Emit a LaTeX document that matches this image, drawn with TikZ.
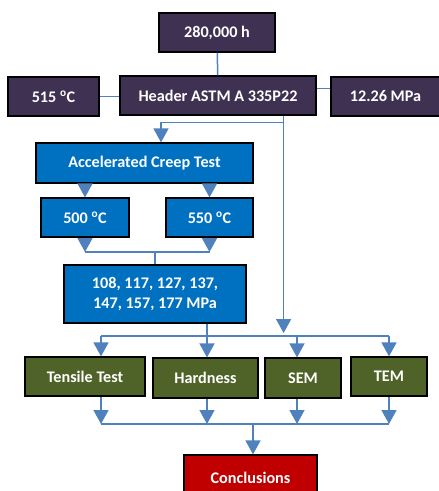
\documentclass[tikz,border=0pt]{standalone}
\usepackage{fontspec}
\setmainfont{Carlito}
\usepackage{xcolor}
\usetikzlibrary{arrows.meta,calc}
\definecolor{plum}{RGB}{63,49,81}
\definecolor{testblue}{RGB}{0,112,192}
\definecolor{olive}{RGB}{79,98,40}
\definecolor{alert}{RGB}{192,0,0}
\definecolor{link}{RGB}{79,129,189}
\tikzset{
    box/.style={
        draw=black,
        line width=1.2pt,
        text=white,
        align=center,
        inner sep=2pt,
        minimum height=39pt,
        font=\fontsize{16.2}{20}\selectfont\bfseries
    },
    inputbox/.style={box, fill=plum},
    testbox/.style={box, fill=testblue},
    probebox/.style={box, fill=olive},
    endbox/.style={box, fill=alert},
    link/.style={
        draw=link,
        line width=1.5pt
    },
    arrow/.style={
        link,
        -{Triangle[width=15pt,length=14pt]}
    }
}
\newcommand{\degC}{\textsuperscript{o}C}

\begin{document}
\begin{tikzpicture}[x=1pt,y=-1pt]
    \useasboundingbox (0,0) rectangle (439,491);

    % service data of the header
    \node[inputbox, minimum width=116pt] (hours) at (217,32.5) {280,000 h};
    \node[inputbox, minimum width=196pt] (header) at (218,95.5) {Header ASTM A 335P22};
    \node[inputbox, minimum width=91pt] (temp) at (53.5,96.5) {515 \degC};
    \node[inputbox, minimum width=109pt] (press) at (385.5,96.5) {12.26 MPa};

    % creep programme
    \node[testbox, minimum width=217pt, minimum height=40pt] (accel) at (144.5,163) {Accelerated Creep Test};
    \node[testbox, minimum width=88pt] (t500) at (85,217.5) {500 \degC};
    \node[testbox, minimum width=87pt] (t550) at (209.5,217.5) {550 \degC};
    \node[testbox, minimum width=182pt, minimum height=58pt] (stress) at (155,294)
        {108, 117, 127, 137,\\147, 157, 177 MPa};

    % characterisation
    \node[probebox, minimum width=120pt] (tensile) at (85,376.5) {Tensile Test};
    \node[probebox, minimum width=105pt, minimum height=40pt] (hardness) at (205.5,378) {Hardness};
    \node[probebox, minimum width=76pt, minimum height=40pt] (sem) at (303,378) {SEM};
    \node[probebox, minimum width=76pt] (tem) at (389,376.5) {TEM};

    \node[endbox, minimum width=133pt, minimum height=46pt] (concl) at (250.5,478) {Conclusions};

    \coordinate (tap) at ([xshift=-33pt]header.south east);
    \coordinate (split) at ([yshift=-7pt]tap);
    \coordinate (merge) at (0,252);
    \coordinate (bus1) at (0,336);
    \coordinate (bus2) at (0,424);

    \draw[link] (hours) -- (header);
    \draw[link] (temp.east) -- (temp.east -| header.west);
    \draw[link] ([yshift=7pt]header.east) -- ([yshift=7pt]header.east -| press.west);

    \draw[arrow] (tap) -- ([yshift=3pt]tap |- bus1);
    \draw[arrow] (split) -| ([xshift=16.5pt]accel.north);

    \draw[arrow] (t500.north |- accel.south) -- (t500.north);
    \draw[arrow] (t550.north |- accel.south) -- (t550.north);
    \draw[arrow] (t500.south) -- (t500.south |- merge);
    \draw[arrow] (t550.south) -- (t550.south |- merge);
    \draw[link] (t500.south |- merge) -- (t550.south |- merge);
    \draw[link] (stress.north |- merge) -- (stress.north);

    \draw[link] ([xshift=52pt]stress.south) -- ([xshift=52pt]stress.south |- bus1);
    \draw[link] ([xshift=16pt]tensile.north |- bus1) -- (tem.north |- bus1);
    \draw[arrow] ([xshift=16pt]tensile.north |- bus1) -- ([xshift=16pt]tensile.north);
    \draw[arrow] ([xshift=1.5pt]hardness.north |- bus1) -- ([xshift=1.5pt]hardness.north);
    \draw[arrow] ([xshift=-6pt]sem.north |- bus1) -- ([xshift=-6pt]sem.north);
    \draw[arrow] (tem.north |- bus1) -- (tem.north);

    \draw[arrow] ([xshift=16pt]tensile.south) -- ([xshift=16pt]tensile.south |- bus2);
    \draw[arrow] ([xshift=1.5pt]hardness.south) -- ([xshift=1.5pt]hardness.south |- bus2);
    \draw[arrow] ([xshift=-6pt]sem.south) -- ([xshift=-6pt]sem.south |- bus2);
    \draw[arrow] (tem.south) -- (tem.south |- bus2);
    \draw[link] ([xshift=16pt]tensile.south |- bus2) -- (tem.south |- bus2);
    \draw[arrow] ([xshift=2.5pt]concl.north |- bus2) -- ([xshift=2.5pt]concl.north);
\end{tikzpicture}
\end{document}
